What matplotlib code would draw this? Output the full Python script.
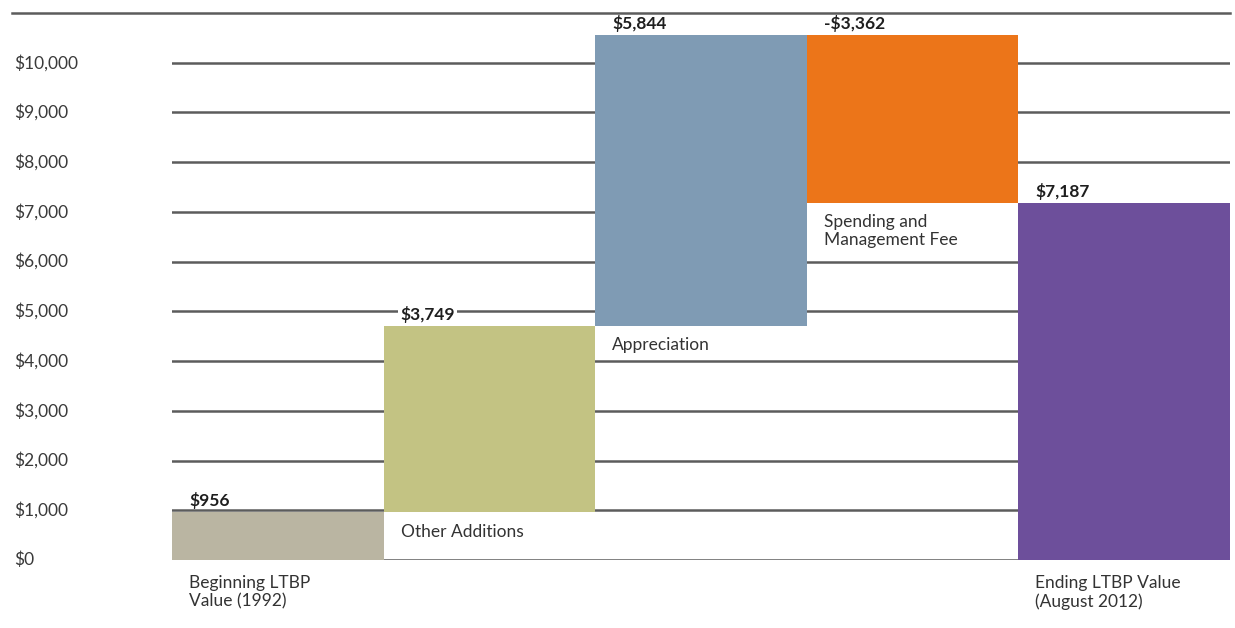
import numpy as np
import matplotlib
matplotlib.use("Agg")
import matplotlib.pyplot as plt
from matplotlib.lines import Line2D
from matplotlib.patches import Rectangle
from matplotlib.transforms import blended_transform_factory

categories = ["Beginning LTBP\nValue (1992)", "Other Additions", "Appreciation",
              "Spending and\nManagement Fee", "Ending LTBP Value\n(August 2012)"]
changes = [956, 3749, 5844, -3362, 7187]
is_total = [True, False, False, False, True]
value_labels = ["$956", "$3,749", "$5,844", "-$3,362", "$7,187"]
colors = ["#bab5a2", "#c3c383", "#7f9bb4", "#ec7519", "#6d4f9b"]
yticks = list(range(0, 11000, 1000))
ytick_labels = ["$0"] + [f"${v:,}" for v in yticks[1:]]

plt.rcParams["font.family"] = ["Lato", "DejaVu Sans"]

W, H = 1235, 628
fig = plt.figure(figsize=(W / 100, H / 100), dpi=100)
ax = fig.add_axes([172 / W, (H - 560) / H, (1230 - 172) / W, (560 - 13) / H])

# waterfall geometry
bottoms, tops = [], []
running = 0
for c, tot in zip(changes, is_total):
    if tot:
        b, t = 0, c
        running = c
    else:
        b, t = running, running + c
        running = t
    bottoms.append(min(b, t))
    tops.append(max(b, t))
bottoms = np.array(bottoms)
tops = np.array(tops)
x = np.arange(len(changes))

for y in yticks:
    ax.axhline(y, color="#5c5c5c", lw=1.8, zorder=1)
ax.bar(x, tops - bottoms, bottom=bottoms, width=1.0, align="edge",
       color=colors, edgecolor="none", zorder=2)

ax.set_xlim(0, len(changes))
ax.set_ylim(0, 11000)
ax.set_axis_off()

# top rule across the full width
fig.add_artist(Line2D([12 / W, 1230 / W], [(H - 13) / H] * 2,
                      color="#5c5c5c", lw=1.8))

# y tick labels, left aligned at the figure edge
tr = blended_transform_factory(fig.transFigure, ax.transData)
for y, lab in zip(yticks, ytick_labels):
    ax.text(14 / W, y, lab, transform=tr, ha="left", va="center",
            fontsize=12.5, color="#3a3a3a")

box = dict(facecolor="white", edgecolor="none", pad=1.5)
for i in range(len(changes)):
    # value label just above the bar top (white box breaks the gridline)
    ax.text(x[i] + 0.08, tops[i] + 60, value_labels[i], ha="left", va="bottom",
            fontsize=12.5, fontweight="bold", color="#1e1e1e",
            bbox=None if is_total[i] else box, zorder=3)
    # category label below the bar bottom
    if is_total[i]:
        ly = -300
    else:
        ly = bottoms[i] - 230
        # white panel under floating bars so gridlines don't cross the label
        nlines = categories[i].count("\n") + 1
        ax.add_patch(Rectangle((x[i], bottoms[i] - nlines * 420 - 200), 1,
                               nlines * 420 + 200, facecolor="white",
                               edgecolor="none", zorder=1.5))
    ax.text(x[i] + 0.08, ly, categories[i], ha="left", va="top",
            fontsize=12.5, color="#333333", linespacing=1.15,
            zorder=3, clip_on=False)

fig.savefig("out.png", dpi=100, facecolor="white")
